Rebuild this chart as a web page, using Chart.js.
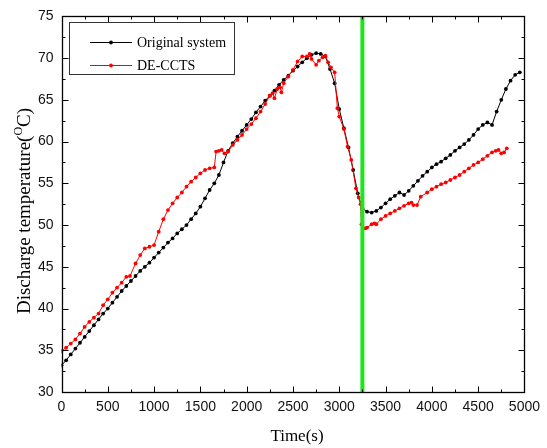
<!DOCTYPE html>
<html>
<head>
<meta charset="utf-8">
<script src="https://cdn.jsdelivr.net/npm/chart.js@4/dist/chart.umd.min.js"></script>
<style>
html,body{margin:0;padding:0;background:#fff;}
#wrap{width:547px;height:448px;position:relative;}
</style>
</head>
<body>
<div id="wrap"><canvas id="c" width="547" height="448"></canvas></div>
<script>
// ---- data ----
const originalTime = [0,50,100,150,200,250,300,350,400,450,500,550,600,650,700,750,800,850,900,950,
  1000,1050,1100,1150,1200,1250,1300,1350,1400,1450,1500,1550,1600,1650,1700,1750,1800,1850,1900,1950,
  2000,2050,2100,2150,2200,2250,2300,2350,2400,2450,2500,2550,2600,2650,2700,2750,2800,2850,2900,2950,
  3000,3050,3100,3150,3200,3250,3300,3350,3400,3450,3500,3550,3600,3650,3700,3750,3800,3850,3900,3950,
  4000,4050,4100,4150,4200,4250,4300,4350,4400,4450,4500,4550,4600,4650,4700,4750,4800,4850,4900,4950];
const originalTemp = [33.2,33.8,34.5,35.2,35.9,36.6,37.3,38.0,38.7,39.4,40.0,40.7,41.4,42.1,42.7,43.3,43.9,44.5,45.0,45.5,
  46.1,46.7,47.3,47.9,48.4,49.0,49.5,50.0,50.7,51.4,52.2,53.2,54.2,55.0,56.0,57.5,58.9,59.8,60.6,61.3,
  62.0,62.7,63.5,64.2,64.9,65.5,66.1,66.8,67.4,67.9,68.5,69.0,69.5,70.0,70.4,70.6,70.5,70.2,68.7,67.0,
  63.9,61.6,59.3,56.6,53.8,52.0,51.6,51.5,51.7,52.1,52.6,53.1,53.5,53.9,53.6,54.1,54.7,55.3,55.9,56.4,
  56.9,57.3,57.6,58.0,58.4,58.9,59.3,59.7,60.2,60.8,61.5,62.0,62.3,62.0,63.6,65.0,66.3,67.3,68.0,68.3];

const decctsTime = [0,50,100,150,200,250,300,350,400,450,500,550,600,650,700,740,800,850,900,950,
  1000,1050,1100,1150,1200,1250,1300,1350,1400,1450,1500,1550,1600,1650,1670,1700,1730,1760,1800,1850,
  1900,1950,2000,2050,2100,2150,2200,2250,2280,2300,2330,2360,2375,2400,2450,2500,2550,2600,2650,2680,
  2700,2750,2780,2820,2850,2880,2910,2950,2980,3000,3050,3090,3130,3180,3210,3230,3240,3280,3300,3350,
  3380,3400,3450,3500,3550,3600,3650,3700,3750,3780,3800,3840,3880,3950,4000,4050,4100,4150,4200,4250,
  4300,4350,4400,4450,4500,4550,4600,4650,4690,4720,4750,4780,4810];
const decctsTemp = [34.9,35.3,35.8,36.3,37.0,37.8,38.4,38.9,39.4,40.4,41.1,41.9,42.5,43.1,43.8,43.9,45.4,46.4,47.2,47.4,
  47.6,49.2,50.7,51.8,52.6,53.3,53.9,54.6,55.2,55.7,56.2,56.6,56.8,56.9,58.8,58.9,59.0,58.6,58.8,59.6,
  60.2,60.8,61.5,62.1,62.8,63.6,64.5,65.5,65.8,65.2,66.3,66.5,65.9,67.0,67.8,68.6,69.6,70.2,70.2,70.5,
  69.9,69.2,69.7,70.1,70.3,69.5,68.9,68.3,64.0,63.0,61.5,59.4,57.8,54.4,53.3,52.5,50.1,49.6,49.7,50.1,
  50.2,50.1,50.7,51.1,51.4,51.7,52.0,52.3,52.6,52.7,52.4,52.4,53.4,53.9,54.3,54.6,54.9,55.1,55.4,55.7,
  56.0,56.4,56.8,57.2,57.5,57.9,58.3,58.7,58.9,59.0,58.6,58.7,59.2];

const markerTime = [3250, 3250];
const markerTemp = [30, 75];

const seriesNames = ['Original system', 'DE-CCTS'];
const xTicks = [0,500,1000,1500,2000,2500,3000,3500,4000,4500,5000];
const yTicks = [30,35,40,45,50,55,60,65,70,75];

const pts = (xs, ys) => xs.map((x, i) => ({x: x, y: ys[i]}));

// ---- plugins ----
const frameTicks = {
  id: 'frameTicks',
  afterDraw(chart) {
    const {ctx, chartArea: a, scales: {x, y}} = chart;
    ctx.save();
    ctx.strokeStyle = '#000';
    ctx.lineWidth = 1;
    ctx.beginPath();
    const L = Math.round(a.left) + 0.5, R = Math.round(a.right) + 0.5;
    const T = Math.round(a.top) + 0.5, B = Math.round(a.bottom) + 0.5;
    const maj = 6, mn = 3;
    for (let v = 0; v <= 5000; v += 250) {
      const px = Math.round(x.getPixelForValue(v)) + 0.5;
      const len = (v % 500 === 0) ? maj : mn;
      ctx.moveTo(px, B); ctx.lineTo(px, B - len);
      ctx.moveTo(px, T); ctx.lineTo(px, T + len);
    }
    for (let v = 30; v <= 75; v += 2.5) {
      const py = Math.round(y.getPixelForValue(v)) + 0.5;
      const len = (v % 5 === 0) ? maj : mn;
      ctx.moveTo(L, py); ctx.lineTo(L + len, py);
      ctx.moveTo(R, py); ctx.lineTo(R - len, py);
    }
    ctx.stroke();
    ctx.lineWidth = 1.3;
    ctx.strokeRect(L, T, R - L, B - T);

    // legend box
    ctx.lineWidth = 1;
    ctx.strokeStyle = '#333';
    ctx.strokeRect(69.5, 22.5, 165, 52);
    const items = chart.data.datasets.slice(0, 2);
    const rows = [42, 65];
    ctx.font = '14px "Liberation Serif", "Times New Roman", serif';
    ctx.textBaseline = 'middle';
    ctx.textAlign = 'left';
    items.forEach((ds, i) => {
      const yy = rows[i] + 0.5;
      ctx.strokeStyle = ds.borderColor;
      ctx.lineWidth = 1;
      ctx.beginPath(); ctx.moveTo(90, yy); ctx.lineTo(132, yy); ctx.stroke();
      ctx.fillStyle = ds.borderColor;
      ctx.beginPath(); ctx.arc(111, yy, 1.9, 0, Math.PI * 2); ctx.fill();
      ctx.fillStyle = '#000';
      ctx.fillText(ds.label, 137, rows[i] + 1);
    });

    // axis titles
    ctx.fillStyle = '#000';
    ctx.font = '17px "Liberation Serif", "Times New Roman", serif';
    ctx.textAlign = 'center';
    ctx.textBaseline = 'alphabetic';
    ctx.fillText('Time(s)', 297, 441);

    ctx.save();
    ctx.translate(30, 211);
    ctx.rotate(-Math.PI / 2);
    const big = '19px "Liberation Serif", "Times New Roman", serif';
    const small = '12px "Liberation Serif", "Times New Roman", serif';
    const p1 = 'Discharge temperature(', p2 = 'O', p3 = 'C)';
    ctx.font = big; const w1 = ctx.measureText(p1).width, w3 = ctx.measureText(p3).width;
    ctx.font = small; const w2 = ctx.measureText(p2).width;
    let sx = -(w1 + w2 + w3) / 2;
    ctx.textAlign = 'left';
    ctx.font = big; ctx.fillText(p1, sx, 0); sx += w1;
    ctx.font = small; ctx.fillText(p2, sx, -8); sx += w2;
    ctx.font = big; ctx.fillText(p3, sx, 0);
    ctx.restore();
    ctx.restore();
  }
};

new Chart(document.getElementById('c'), {
  type: 'scatter',
  data: {
    datasets: [
      {label: seriesNames[0], data: pts(originalTime, originalTemp), showLine: true,
       borderColor: '#000000', backgroundColor: '#000000', borderWidth: 1,
       pointRadius: 1.9, pointBorderWidth: 0, pointHoverRadius: 0, order: 2},
      {label: seriesNames[1], data: pts(decctsTime, decctsTemp), showLine: true,
       borderColor: '#ff0000', backgroundColor: '#ff0000', borderWidth: 1,
       pointRadius: 1.9, pointBorderWidth: 0, pointHoverRadius: 0, order: 1},
      {label: 'marker', data: pts(markerTime, markerTemp), showLine: true,
       borderColor: '#1ee61e', backgroundColor: '#1ee61e', borderWidth: 4,
       pointRadius: 0, order: 0}
    ]
  },
  options: {
    responsive: false,
    animation: false,
    events: [],
    layout: {padding: {top: 10, right: 17, left: 0, bottom: 0}},
    plugins: {legend: {display: false}, tooltip: {enabled: false}},
    scales: {
      x: {
        type: 'linear', min: 0, max: 5000,
        afterBuildTicks: s => { s.ticks = xTicks.map(v => ({value: v})); },
        afterFit: s => { s.height = 56; },
        grid: {display: false, drawTicks: false},
        border: {display: false},
        ticks: {padding: 7, color: '#111', font: {family: '"Liberation Sans", Arial, sans-serif', size: 14}, maxRotation: 0,
                callback: v => String(v)}
      },
      y: {
        type: 'linear', min: 30, max: 75,
        afterBuildTicks: s => { s.ticks = yTicks.map(v => ({value: v})); },
        afterFit: s => { s.width = 61.5; },
        grid: {display: false, drawTicks: false},
        border: {display: false},
        ticks: {padding: 8, color: '#111', font: {family: '"Liberation Sans", Arial, sans-serif', size: 14},
                callback: v => String(v)}
      }
    }
  },
  plugins: [frameTicks]
});
</script>
</body>
</html>
